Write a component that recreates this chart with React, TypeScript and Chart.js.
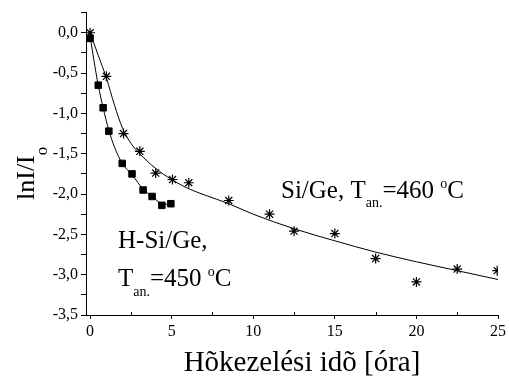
import React, { useEffect, useRef } from 'react';
import { Chart, registerables } from 'chart.js';

Chart.register(...registerables);

// H-Si/Ge measured points (squares)
const hSiX = [0, 0.5, 0.8, 1.15, 1.97, 2.57, 3.25, 3.8, 4.4, 4.95];
const hSiY = [-0.07, -0.65, -0.93, -1.22, -1.62, -1.75, -1.95, -2.03, -2.14, -2.12];

// Si/Ge measured points (asterisks)
const siX = [0, 1, 2.05, 3.05, 4.02, 5.05, 6.05, 8.5, 11, 12.5, 15, 17.5, 20, 22.5, 24.95];
const siY = [0, -0.54, -1.25, -1.47, -1.74, -1.82, -1.86, -2.08, -2.25, -2.46, -2.49, -2.8, -3.09, -2.93, -2.95];

// Fit curve, Si/Ge
const fitSiX = [0, 0.5, 1, 1.5, 2, 2.5, 3, 4, 5, 6, 7, 8.5, 10, 12.5, 15, 17.5, 20, 22.5, 25];
const fitSiY = [0, -0.28, -0.56, -0.9, -1.19, -1.37, -1.49, -1.68, -1.82, -1.93, -2.01, -2.12, -2.25, -2.43, -2.58, -2.72, -2.84, -2.95, -3.06];

// Fit curve, H-Si/Ge
const fitHX = [0, 0.25, 0.5, 0.8, 1.15, 1.5, 1.97, 2.57, 3.25, 3.8, 4.4, 4.95];
const fitHY = [-0.04, -0.36, -0.65, -0.93, -1.21, -1.42, -1.62, -1.76, -1.94, -2.03, -2.12, -2.13];

const X_MIN = -0.25;
const X_MAX = 25;
const Y_MIN = -3.5;
const Y_MAX = 0.25;

const SERIF = '"Liberation Serif", "Times New Roman", Times, serif';

function pts(xs: number[], ys: number[]) {
  return xs.map((x, i) => ({ x, y: ys[i] }));
}

function fmtY(v: number): string {
  const twice = v * 2;
  if (Math.abs(twice - Math.round(twice)) > 1e-6) return '';
  const r = Math.round(v * 10) / 10;
  if (Math.abs(r) < 1e-9) return '0,0';
  return r.toFixed(1).replace('.', ',');
}

type Part = { t: string; s: number; dy?: number };

export default function App() {
  const ref = useRef<HTMLCanvasElement>(null);

  useEffect(() => {
    if (!ref.current) return;

    const textPlugin = {
      id: 'texts',
      afterDraw(chart: any) {
        const ctx: CanvasRenderingContext2D = chart.ctx;
        ctx.save();
        ctx.fillStyle = '#000';
        ctx.strokeStyle = '#000';
        ctx.textBaseline = 'alphabetic';
        ctx.textAlign = 'left';

        const rich = (x: number, y: number, parts: Part[]) => {
          let cx = x;
          for (const p of parts) {
            ctx.font = `${p.s}px ${SERIF}`;
            ctx.fillText(p.t, cx, y + (p.dy || 0));
            cx += ctx.measureText(p.t).width;
          }
        };

        // annotations
        rich(281, 198, [
          { t: 'Si/Ge, T', s: 25 },
          { t: 'an.', s: 14, dy: 9 },
          { t: '=460 ', s: 25 },
          { t: 'o', s: 14, dy: -10.5 },
          { t: 'C', s: 25 },
        ]);
        rich(118, 248, [{ t: 'H-Si/Ge,', s: 25 }]);
        rich(118, 286, [
          { t: 'T', s: 25 },
          { t: 'an.', s: 14, dy: 10 },
          { t: '=450 ', s: 25 },
          { t: 'o', s: 14, dy: -10.5 },
          { t: 'C', s: 25 },
        ]);

        // x-axis title
        ctx.font = `29px ${SERIF}`;
        ctx.textAlign = 'center';
        ctx.fillText('Hõkezelési idõ [óra]', 302, 371);

        // y-axis title (rotated)
        ctx.save();
        ctx.translate(34, 200);
        ctx.rotate(-Math.PI / 2);
        ctx.textAlign = 'left';
        ctx.font = `26px ${SERIF}`;
        ctx.fillText('lnI/I', 0, 0);
        const w = ctx.measureText('lnI/I').width;
        ctx.font = `17px ${SERIF}`;
        ctx.fillText('o', w, 13);
        ctx.restore();

        // minor inward ticks on x-axis
        const xs = chart.scales.x;
        const b = chart.chartArea.bottom;
        ctx.lineWidth = 1;
        for (let v = 2.5; v < X_MAX; v += 5) {
          const px = Math.round(xs.getPixelForValue(v)) + 0.5;
          ctx.beginPath();
          ctx.moveTo(px, b);
          ctx.lineTo(px, b - 3);
          ctx.stroke();
        }
        ctx.restore();
      },
    };

    const chart = new Chart(ref.current, {
      type: 'scatter',
      data: {
        datasets: [
          {
            label: 'Si/Ge fit',
            data: pts(fitSiX, fitSiY),
            showLine: true,
            borderColor: '#000',
            borderWidth: 1,
            pointRadius: 0,
            tension: 0.4,
            cubicInterpolationMode: 'monotone',
            fill: false,
          },
          {
            label: 'H-Si/Ge fit',
            data: pts(fitHX, fitHY),
            showLine: true,
            borderColor: '#000',
            borderWidth: 1,
            pointRadius: 0,
            tension: 0.4,
            cubicInterpolationMode: 'monotone',
            fill: false,
          },
          {
            label: 'H-Si/Ge',
            data: pts(hSiX, hSiY),
            showLine: false,
            pointStyle: 'rect',
            pointRadius: 4.6,
            backgroundColor: '#000',
            borderColor: '#000',
            borderWidth: 1,
          },
          {
            label: 'Si/Ge',
            data: pts(siX, siY),
            showLine: false,
            pointStyle: 'star',
            pointRadius: 5,
            backgroundColor: '#000',
            borderColor: '#000',
            borderWidth: 1.2,
          },
        ] as any,
      },
      options: {
        responsive: false,
        animation: false,
        devicePixelRatio: 1,
        layout: { padding: { left: 0, top: 12, right: 11, bottom: 0 } },
        plugins: {
          legend: { display: false },
          tooltip: { enabled: false },
        },
        scales: {
          x: {
            type: 'linear',
            position: 'bottom',
            min: X_MIN,
            max: X_MAX,
            afterFit: (s: any) => {
              s.height = 64;
            },
            ticks: {
              stepSize: 5,
              includeBounds: false,
              autoSkip: false,
              maxRotation: 0,
              padding: 3,
              color: '#000',
              font: { family: SERIF, size: 16 },
              callback: (v: any) => String(v),
            },
            grid: {
              display: true,
              drawOnChartArea: false,
              drawTicks: true,
              tickLength: 4,
              color: '#000',
              lineWidth: 1,
            },
            border: { display: true, color: '#000', width: 1 },
          },
          y: {
            type: 'linear',
            min: Y_MIN,
            max: Y_MAX,
            afterFit: (s: any) => {
              s.width = 86;
            },
            ticks: {
              stepSize: 0.25,
              includeBounds: false,
              autoSkip: false,
              padding: 3,
              color: '#000',
              font: { family: SERIF, size: 16 },
              callback: (v: any) => fmtY(Number(v)),
            },
            grid: {
              display: true,
              drawOnChartArea: false,
              drawTicks: true,
              tickLength: 5,
              color: '#000',
              lineWidth: 1,
            },
            border: { display: true, color: '#000', width: 1 },
          },
        },
      } as any,
      plugins: [textPlugin],
    });

    return () => {
      chart.destroy();
    };
  }, []);

  return (
    <div style={{ position: 'absolute', left: 0, top: 0, width: 509, height: 379, background: '#fff' }}>
      <canvas ref={ref} width={509} height={379} style={{ display: 'block', width: 509, height: 379 }} />
    </div>
  );
}
